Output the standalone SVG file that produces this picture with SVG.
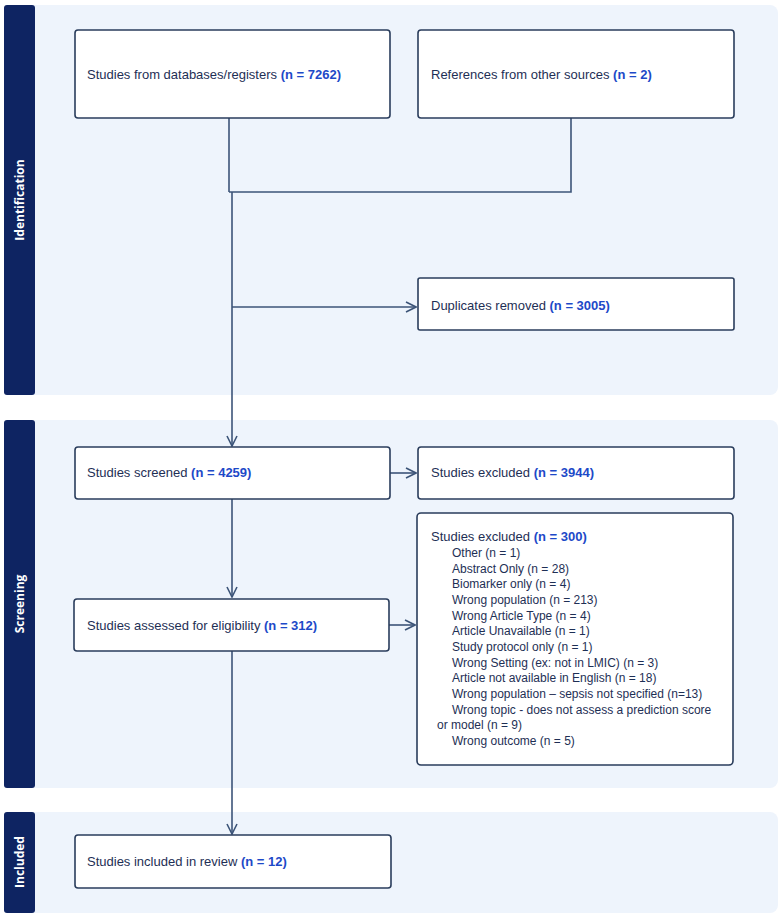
<svg xmlns="http://www.w3.org/2000/svg" width="780" height="920" viewBox="0 0 780 920">
<style>
.panel{fill:#EEF4FC}
.bar{fill:#0E2462}
.side{font-family:"Open Sans","Liberation Sans",sans-serif;font-weight:bold;font-size:12px;fill:#fff;text-anchor:middle}
.box{fill:#fff;stroke:#2A3D5C;stroke-width:1.6}
.t{font-family:"Liberation Sans","DejaVu Sans",sans-serif;font-size:13px;fill:#1E2F55}
.n{fill:#1D49C8;font-weight:bold}
.s{font-family:"Liberation Sans","DejaVu Sans",sans-serif;font-size:12px;fill:#1E2F55}
.c{fill:none;stroke:#3C5478;stroke-width:1.6}
</style>
<defs>
<marker id="ah" viewBox="0 0 12 12" refX="11" refY="6" markerWidth="12" markerHeight="12" markerUnits="userSpaceOnUse" orient="auto">
<path d="M1,1 L11,6 L1,11" fill="none" stroke="#3C5478" stroke-width="1.6"/>
</marker>
</defs>

<g id="panel-identification">
<rect class="panel" x="4" y="5" width="774" height="390" rx="8"/>
<rect class="bar" x="4" y="5" width="31" height="390" rx="3"/>
<text class="side" transform="translate(24,200) rotate(-90)">Identification</text>
</g>
<g id="panel-screening">
<rect class="panel" x="4" y="420" width="774" height="368" rx="8"/>
<rect class="bar" x="4" y="420" width="31" height="368" rx="3"/>
<text class="side" transform="translate(24,604) rotate(-90)">Screening</text>
</g>
<g id="panel-included">
<rect class="panel" x="4" y="812" width="774" height="101" rx="8"/>
<rect class="bar" x="4" y="812" width="31" height="101" rx="3"/>
<text class="side" transform="translate(24,862) rotate(-90)">Included</text>
</g>

<g id="connectors">
<path class="c" d="M229,118 V192"/>
<path class="c" d="M571,118 V192 H229"/>
<path class="c" d="M232,192 V446" marker-end="url(#ah)"/>
<path class="c" d="M232,307 H416" marker-end="url(#ah)"/>
<path class="c" d="M390,473 H416" marker-end="url(#ah)"/>
<path class="c" d="M232,499 V597" marker-end="url(#ah)"/>
<path class="c" d="M389,625 H415" marker-end="url(#ah)"/>
<path class="c" d="M232,651 V834" marker-end="url(#ah)"/>
</g>

<g id="node-databases">
<rect class="box" x="75" y="30" width="315" height="88" rx="3"/>
<text class="t" x="87" y="79">Studies from databases/registers <tspan class="n">(n = 7262)</tspan></text>
</g>
<g id="node-other-sources">
<rect class="box" x="418" y="30" width="316" height="88" rx="3"/>
<text class="t" x="431" y="79">References from other sources <tspan class="n">(n = 2)</tspan></text>
</g>
<g id="node-duplicates">
<rect class="box" x="418" y="278" width="316" height="52" rx="2"/>
<text class="t" x="431" y="310">Duplicates removed <tspan class="n">(n = 3005)</tspan></text>
</g>
<g id="node-screened">
<rect class="box" x="75" y="447" width="315" height="52" rx="3"/>
<text class="t" x="87" y="477">Studies screened <tspan class="n">(n = 4259)</tspan></text>
</g>
<g id="node-excluded-3944">
<rect class="box" x="418" y="447" width="316" height="52" rx="3"/>
<text class="t" x="431" y="477">Studies excluded <tspan class="n">(n = 3944)</tspan></text>
</g>
<g id="node-assessed">
<rect class="box" x="74" y="599" width="315" height="52" rx="3"/>
<text class="t" x="87" y="630">Studies assessed for eligibility <tspan class="n">(n = 312)</tspan></text>
</g>
<g id="node-excluded-300">
<rect class="box" x="417" y="513" width="316" height="252" rx="4"/>
<text class="t" x="431" y="541">Studies excluded <tspan class="n">(n = 300)</tspan></text>
<text class="s" x="452" y="557">Other (n = 1)</text>
<text class="s" x="452" y="573">Abstract Only (n = 28)</text>
<text class="s" x="452" y="588">Biomarker only (n = 4)</text>
<text class="s" x="452" y="604">Wrong population (n = 213)</text>
<text class="s" x="452" y="620">Wrong Article Type (n = 4)</text>
<text class="s" x="452" y="635">Article Unavailable (n = 1)</text>
<text class="s" x="452" y="651">Study protocol only (n = 1)</text>
<text class="s" x="452" y="667">Wrong Setting (ex: not in LMIC) (n = 3)</text>
<text class="s" x="452" y="682">Article not available in English (n = 18)</text>
<text class="s" x="452" y="698">Wrong population – sepsis not specified (n=13)</text>
<text class="s" x="452" y="714">Wrong topic - does not assess a prediction score</text>
<text class="s" x="437" y="729">or model (n = 9)</text>
<text class="s" x="452" y="745">Wrong outcome (n = 5)</text>
</g>
<g id="node-included">
<rect class="box" x="75" y="835" width="316" height="53" rx="3"/>
<text class="t" x="87" y="866">Studies included in review <tspan class="n">(n = 12)</tspan></text>
</g>
</svg>
